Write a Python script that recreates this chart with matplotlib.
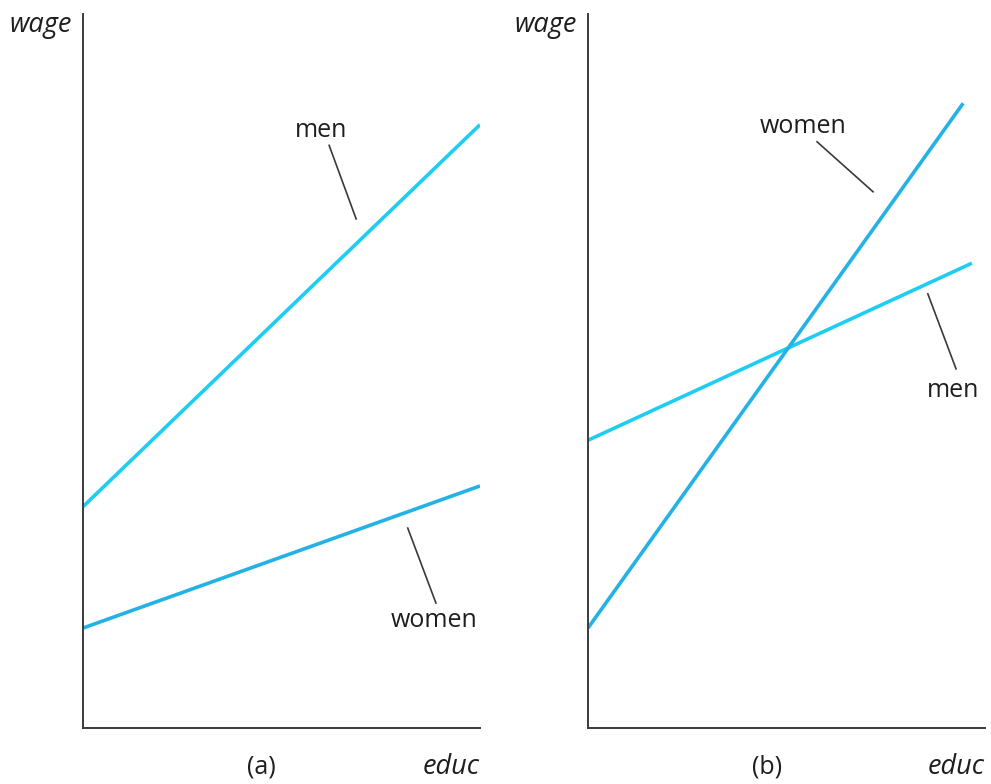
import matplotlib
matplotlib.use("Agg")
import matplotlib.pyplot as plt

plt.rcParams['font.family'] = ['Open Sans', 'DejaVu Sans']

# educ ranges and wage values at the ends of each line
educ_a = [0.0, 10.0]
men_a = [3.10, 8.45]
women_a = [1.40, 3.39]

educ_men_b = [0.0, 9.67]
men_b = [4.03, 6.51]
educ_women_b = [0.0, 9.45]
women_b = [1.40, 8.75]

panel_labels = ['(a)', '(b)']

men_color = '#1ecdf2'
women_color = '#24b2e6'
ink = '#3a3a3a'
txt = '#1e1e1e'

fig = plt.figure(figsize=(9.91, 7.84), dpi=100)
W, H = 991, 784


def make_axes(left_px):
    ax = fig.add_axes([left_px / W, (H - 728) / H, 397 / W, 714 / H])
    ax.set_xlim(0, 10)
    ax.set_ylim(0, 10)
    for s in ['top', 'right']:
        ax.spines[s].set_visible(False)
    for s in ['left', 'bottom']:
        ax.spines[s].set_color(ink)
        ax.spines[s].set_linewidth(1.4)
    ax.set_xticks([])
    ax.set_yticks([])
    ax.patch.set_alpha(0)
    return ax


def decorate(ax, label):
    ax.text(-0.28, 9.85, 'wage', style='italic', fontsize=19.5, ha='right', va='center',
            color=txt, clip_on=False)
    ax.text(10.0, -0.55, 'educ', style='italic', fontsize=19.5, ha='right', va='center',
            color=txt, clip_on=False)
    ax.text(4.5, -0.55, label, fontsize=18, ha='center', va='center',
            color=txt, clip_on=False)


ax1 = make_axes(83)
ax1.plot(educ_a, men_a, color=men_color, lw=2.6, solid_capstyle='butt')
ax1.plot(educ_a, women_a, color=women_color, lw=2.6, solid_capstyle='butt')
decorate(ax1, panel_labels[0])
ax1.text(6.0, 8.37, 'men', fontsize=18, ha='center', va='center', color=txt)
ax1.plot([6.2, 6.88], [8.16, 7.13], color=ink, lw=1.2)
ax1.text(8.85, 1.5, 'women', fontsize=18, ha='center', va='center', color=txt)
ax1.plot([8.18, 8.89], [2.8, 1.75], color=ink, lw=1.2)

ax2 = make_axes(588)
ax2.plot(educ_men_b, men_b, color=men_color, lw=2.6, solid_capstyle='butt')
ax2.plot(educ_women_b, women_b, color=women_color, lw=2.6, solid_capstyle='butt')
decorate(ax2, panel_labels[1])
ax2.text(5.43, 8.43, 'women', fontsize=18, ha='center', va='center', color=txt)
ax2.plot([5.77, 7.18], [8.21, 7.51], color=ink, lw=1.2)
ax2.text(9.2, 4.73, 'men', fontsize=18, ha='center', va='center', color=txt)
ax2.plot([8.56, 9.27], [6.08, 5.03], color=ink, lw=1.2)

fig.savefig('out.png', dpi=100)
